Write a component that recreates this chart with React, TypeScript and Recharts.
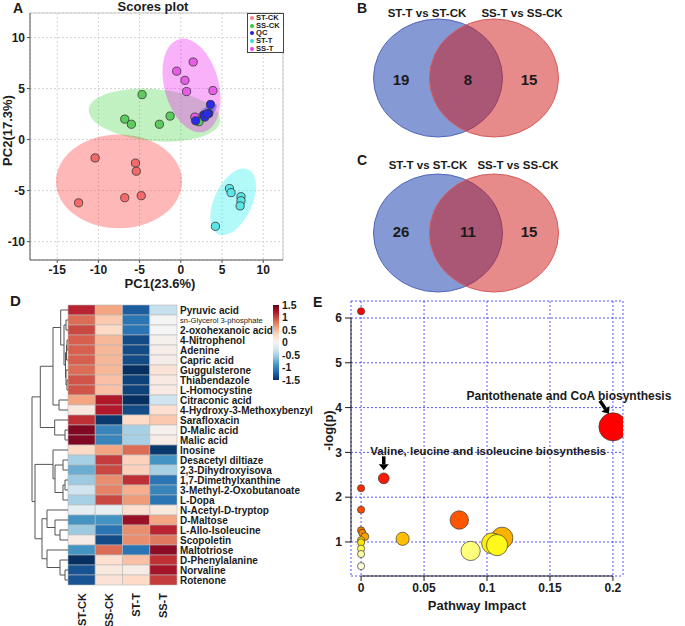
import React from 'react';
import {
  ScatterChart, Scatter, BarChart, Bar, Cell, XAxis, YAxis, ZAxis, CartesianGrid,
  ReferenceArea, ReferenceLine, ReferenceDot, Legend, Label,
} from 'recharts';

const FONT = '"Liberation Sans", Arial, Helvetica, sans-serif';
const INK = '#1b1b1b';

// ---------- A: PCA scores ----------
const groupNames = ['ST-CK', 'SS-CK', 'QC', 'ST-T', 'SS-T'];
const stCkPC1 = [-10.4, -5.5, -5.4, -12.4, -6.8, -4.8];
const stCkPC2 = [-1.8, -2.3, -3.1, -6.2, -5.7, -5.5];
const ssCkPC1 = [-4.7, -6.8, -6.0, -1.3, -2.6, 2.2];
const ssCkPC2 = [4.4, 2.0, 1.5, 2.3, 1.5, 1.75];
const qcPC1 = [1.8, 2.8, 2.9, 3.4, 3.6, 3.2];
const qcPC2 = [1.84, 2.4, 2.2, 2.56, 3.44, 2.5];
const stTPC1 = [5.9, 6.1, 7.3, 7.3, 7.2, 4.2];
const stTPC2 = [-4.8, -5.2, -5.6, -6.0, -6.5, -8.5];
const ssTPC1 = [1.5, -0.5, 0.5, 0.7, 3.9, 1.7];
const ssTPC2 = [7.6, 6.7, 5.8, 4.7, 4.8, 2.2];

// 95% ellipses: centre, half-axes (in PC units) and tilt
const ellipsePC1 = [-7.5, -3.2, 3.0, 6.35, 1.3];
const ellipsePC2 = [-4.1, 2.4, 2.55, -6.1, 5.3];
const ellipseHalfPC1 = [7.65, 8.0, 1.7, 2.3, 3.3];
const ellipseHalfPC2 = [4.6, 2.55, 0.5, 3.5, 4.7];
const ellipseTilt = [0, 5, -40, 25, -15];

const dotFill = ['#f46a6a', '#5dcc5d', '#2b2be8', '#58e6e6', '#e85de8'];
const hullFill = ['#ff3333', '#33cc33', '#3a3aff', '#22eeee', '#ee22ee'];
const hullOpacity = [0.35, 0.3, 0.45, 0.35, 0.35];
const legendDot = ['#ff8080', '#33cc33', '#2020dd', '#33e0e0', '#ee44ee'];
const hullOrder = [0, 1, 4, 2, 3];
const pointOrder = [0, 1, 4, 2, 3];

const groupPC1 = [stCkPC1, ssCkPC1, qcPC1, stTPC1, ssTPC1];
const groupPC2 = [stCkPC2, ssCkPC2, qcPC2, stTPC2, ssTPC2];
const scoreSeries = groupNames.map((name, g) => ({
  name,
  points: groupPC1[g].map((x, k) => ({ x, y: groupPC2[g][k] })),
}));

// ---------- B / C: Venn ----------
const vennSets = ['ST-T vs ST-CK', 'SS-T vs SS-CK'];
const vennCountsB = [19, 8, 15];
const vennCountsC = [26, 11, 15];

// ---------- D: heatmap ----------
const metabolites = [
  'Pyruvic acid', 'sn-Glycerol 3-phosphate', '2-oxohexanoic acid', '4-Nitrophenol', 'Adenine',
  'Capric acid', 'Guggulsterone', 'Thiabendazole', 'L-Homocystine', 'Citraconic acid',
  '4-Hydroxy-3-Methoxybenzyl', 'Sarafloxacin', 'D-Malic acid', 'Malic acid', 'Inosine',
  'Desacetyl diltiaze', '2,3-Dihydroxyisova', '1,7-Dimethylxanthine', '3-Methyl-2-Oxobutanoate',
  'L-Dopa', 'N-Acetyl-D-tryptop', 'D-Maltose', 'L-Allo-Isoleucine', 'Scopoletin', 'Maltotriose',
  'D-Phenylalanine', 'Norvaline', 'Rotenone',
];
const sampleGroups = ['ST-CK', 'SS-CK', 'ST-T', 'SS-T'];
const zStCk = [1.15, 0.85, 1.0, 0.9, 0.9, 0.9, 0.85, 0.95, 0.95, 0.6, 0.15, 1.1, 1.4, 1.4, 0.3, -0.5, -0.75, -0.55, -0.3, -0.5, -0.15, -0.9, -0.55, 0.1, -0.9, -1.55, -1.3, -1.3];
const zSsCk = [0.6, 0.4, 0.3, 0.5, 0.5, 0.5, 0.5, 0.45, 0.45, 1.2, 1.2, -1.45, -1.0, -1.0, 0.6, 1.05, 1.0, 0.7, 0.75, 1.0, -0.12, -0.9, -1.1, -1.35, 0.85, 0.25, 0.15, 0.2];
const zStT = [-1.25, -1.1, -1.1, -1.35, -1.35, -1.35, -1.5, -1.4, -1.4, -1.5, -1.35, 0.3, -0.5, -0.5, 0.85, 0.35, 0.35, 1.1, 0.55, 0.65, 0.25, 1.3, 0.7, 0.7, -1.1, 0.45, 0.1, 0.3];
const zSsT = [-0.35, 0, 0, 0.05, 0.08, 0.08, 0.2, 0.12, 0.12, -0.3, 0.25, 0.4, 0.05, 0.1, -1.45, -0.9, -0.5, -1.1, -1.0, -1.1, 0.15, 0.6, 1.15, 0.8, 1.35, 1.1, 1.25, 1.05];
const colorbarTicks = [-1.5, -1, -0.5, 0, 0.5, 1, 1.5];

// hierarchical clustering of rows: [child, child, height]; ids >= 28 refer to earlier merges
const dendroMerges: [number, number, number][] = [
  [1, 2, 2], [3, 4, 1], [5, 29, 1.5], [7, 8, 1], [6, 31, 2], [30, 32, 2.5], [28, 33, 4],
  [0, 34, 7.3], [9, 10, 9], [35, 36, 15], [12, 13, 3], [11, 38, 13.3], [37, 39, 27.7],
  [15, 16, 5], [17, 18, 3], [42, 19, 5], [41, 43, 13], [14, 44, 15], [22, 23, 8],
  [21, 46, 13], [20, 47, 21], [26, 27, 3], [25, 49, 8], [24, 50, 21], [48, 51, 26],
  [45, 52, 33], [40, 53, 36],
];

// ---------- E: pathway analysis ----------
const pathwayImpact = [0, 0.2, 0.018, 0, 0, 0.078, 0, 0.001, 0.003, 0.112, 0.033, 0, 0.087, 0.104, 0, 0.108, 0, 0, 0];
const pathwayLogP = [6.15, 3.57, 2.42, 2.2, 1.72, 1.49, 1.26, 1.2, 1.12, 1.09, 1.07, 1.04, 0.8, 0.97, 0.99, 0.93, 0.85, 0.73, 0.46];
const calloutIndex = [1, 2];
const calloutNames = ['Pantothenate and CoA biosynthesis', 'Valine, leucine and isoleucine biosynthesis'];

// ---------- helpers ----------
const hexToRgb = (h: string) => [1, 3, 5].map((i) => parseInt(h.slice(i, i + 2), 16));
const mix = (a: string, b: string, t: number) => {
  const A = hexToRgb(a);
  const B = hexToRgb(b);
  return `rgb(${A.map((v, i) => Math.round(v + (B[i] - v) * t)).join(',')})`;
};
const rampColor = (stops: number[], colors: string[], v: number) => {
  if (v <= stops[0]) return colors[0];
  for (let i = 1; i < stops.length; i++) {
    if (v <= stops[i]) return mix(colors[i - 1], colors[i], (v - stops[i - 1]) / (stops[i] - stops[i - 1]));
  }
  return colors[colors.length - 1];
};
const rdbu = ['#053061', '#2166ac', '#4393c3', '#92c5de', '#d1e5f0', '#f4f4f4', '#fddbc7', '#f4a582', '#d6604d', '#b2182b', '#67001f'];
const rdbuStops = rdbu.map((_, i) => -1.5 + (3 * i) / 10);
const zColor = (v: number) => rampColor(rdbuStops, rdbu, v);
const heatStops = [0.4, 0.75, 0.9, 0.97, 1.05, 1.1, 1.25, 1.5, 2.0, 2.4, 3.5];
const heatHex = ['#ffffe6', '#ffffa0', '#ffff30', '#ffee00', '#ffcc00', '#ffaa00', '#f07800', '#ff5500', '#ff3800', '#ff1800', '#ff0000'];
const pColor = (v: number) => rampColor(heatStops, heatHex, v);

const tickFont = (size: number) => ({ fontSize: size, fontWeight: 700, fill: INK, fontFamily: FONT });

const hTitle = (text: string, dx: number, baseline: number, size: number) => (p: any) => {
  const vb = p.viewBox || { x: 0, y: 0, width: 0, height: 0 };
  return (
    <text x={vb.x + vb.width / 2 + dx} y={vb.y + baseline} textAnchor="middle" fontSize={size} fontWeight={700} fill={INK} fontFamily={FONT}>
      {text}
    </text>
  );
};
const vTitle = (text: string, cxOff: number, cyOff: number, size: number) => (p: any) => {
  const vb = p.viewBox || { x: 0, y: 0, width: 0, height: 0 };
  const cx = vb.x + cxOff;
  const cy = vb.y + vb.height / 2 + cyOff;
  return (
    <text x={cx} y={cy} transform={`rotate(-90 ${cx} ${cy})`} textAnchor="middle" dominantBaseline="central" fontSize={size} fontWeight={700} fill={INK} fontFamily={FONT}>
      {text}
    </text>
  );
};

const Txt = ({ x, y, size, children, center = false, weight = 700 }: any) => (
  <div style={{ position: 'absolute', left: x, top: y, fontSize: size, fontWeight: weight, lineHeight: 1, whiteSpace: 'nowrap', transform: center ? 'translateX(-50%)' : undefined }}>
    {children}
  </div>
);

// ---------- panel A ----------
const ellipseShape = (g: number) => (p: any) => {
  const cx = p.x + p.width / 2;
  const cy = p.y + p.height / 2;
  return (
    <ellipse cx={cx} cy={cy} rx={Math.abs(p.width) / 2} ry={Math.abs(p.height) / 2} fill={hullFill[g]} fillOpacity={hullOpacity[g]} stroke="none" transform={`rotate(${ellipseTilt[g]} ${cx} ${cy})`} />
  );
};
const scoreDot = (g: number) => (p: any) => (
  <circle cx={p.cx} cy={p.cy} r={4.1} fill={dotFill[g]} stroke="#333" strokeWidth={0.8} />
);
const ScoresLegend = () => (
  <div style={{ border: '1px solid #444', background: '#fff', padding: '0px 2px', fontSize: 7.6, fontWeight: 700, lineHeight: '7.7px', fontFamily: FONT, color: INK }}>
    {groupNames.map((g, i) => (
      <div key={g} style={{ display: 'flex', alignItems: 'center', whiteSpace: 'nowrap', height: 7.7 }}>
        <span style={{ display: 'inline-block', width: 4, height: 4, borderRadius: 2, background: legendDot[i], marginRight: 2 }} />
        {g}
      </div>
    ))}
  </div>
);

const ScoresPlot = () => (
  <ScatterChart width={300} height={295} margin={{ top: 13, right: 17, bottom: 0, left: 0 }}>
    <CartesianGrid stroke="#d4d4d4" strokeDasharray="2 2" />
    <XAxis type="number" dataKey="x" domain={[-18.3, 12.4]} ticks={[-15, -10, -5, 0, 5, 10]} allowDataOverflow height={35} tickSize={3} tickMargin={2} tick={tickFont(12)} stroke="#555">
      <Label content={hTitle('PC1(23.6%)', 3.5, 27.5, 13)} />
    </XAxis>
    <YAxis type="number" dataKey="y" domain={[-11.8, 12.4]} ticks={[-10, -5, 0, 5, 10]} allowDataOverflow width={30} tickSize={3} tickMargin={2} tick={tickFont(12)} stroke="#555">
      <Label content={vTitle('PC2(17.3%)', 7.5, -6, 13)} />
    </YAxis>
    <ReferenceLine x={12.4} stroke="#c8c8c8" />
    <ReferenceLine y={12.4} stroke="#c8c8c8" />
    {hullOrder.map((g) => (
      <ReferenceArea
        key={`hull-${g}`}
        x1={ellipsePC1[g] - ellipseHalfPC1[g]}
        x2={ellipsePC1[g] + ellipseHalfPC1[g]}
        y1={ellipsePC2[g] - ellipseHalfPC2[g]}
        y2={ellipsePC2[g] + ellipseHalfPC2[g]}
        ifOverflow="visible"
        shape={ellipseShape(g)}
      />
    ))}
    {pointOrder.map((g) => (
      <Scatter key={scoreSeries[g].name} name={scoreSeries[g].name} data={scoreSeries[g].points} shape={scoreDot(g)} isAnimationActive={false} />
    ))}
    <Legend layout="vertical" align="center" verticalAlign="middle" content={() => <ScoresLegend />} wrapperStyle={{ position: 'absolute', left: 247, top: 13, width: 37, height: 40 }} />
  </ScatterChart>
);

// ---------- panels B, C ----------
const vennFill = ['#0b33ab', '#cf1515'];
const vennStroke = ['#5466bb', '#d65c5c'];
const vennCircleX = [98, 154];
const vennCountX = [61, 128, 189];

const vennCircle = (p: any) => (
  <ellipse cx={p.cx} cy={p.cy} rx={64.5} ry={59} fill={vennFill[p.payload.set]} fillOpacity={0.5} stroke={vennStroke[p.payload.set]} strokeWidth={1} />
);
const vennCount = (p: any) => (
  <text x={p.cx} y={p.cy} textAnchor="middle" dominantBaseline="central" fontSize={15} fontWeight={700} fill={INK} fontFamily={FONT}>
    {p.payload.n}
  </text>
);

const Venn = ({ counts, circleY, countY }: { counts: number[]; circleY: number; countY: number }) => {
  const circles = vennSets.map((_, i) => ({ x: vennCircleX[i], y: circleY, set: i }));
  const regions = counts.map((n, i) => ({ x: vennCountX[i], y: countY, n }));
  return (
    <ScatterChart width={345} height={150} margin={{ top: 0, right: 0, bottom: 0, left: 0 }}>
      <XAxis type="number" dataKey="x" domain={[0, 345]} hide />
      <YAxis type="number" dataKey="y" domain={[0, 150]} reversed hide />
      <Scatter data={circles} shape={vennCircle} isAnimationActive={false} />
      <Scatter data={regions} shape={vennCount} isAnimationActive={false} />
    </ScatterChart>
  );
};

// ---------- panel D ----------
const zColumns = [zStCk, zSsCk, zStT, zSsT];
const heatRows = metabolites.map((name) => ({ name, w0: 1, w1: 1, w2: 1, w3: 1 }));

const RowTick = (p: any) => {
  const name = p.payload.value as string;
  const small = name.startsWith('sn-');
  return (
    <text x={p.x} y={p.y} dy="0.36em" textAnchor="start" fontSize={small ? 7.6 : 10} fontWeight={small ? 400 : 700} fill={INK} fontFamily={FONT}>
      {name}
    </text>
  );
};
const ColTick = (p: any) => {
  const label = sampleGroups[Math.floor(p.payload.value)];
  return (
    <text x={p.x} y={p.y} transform={`rotate(-90 ${p.x} ${p.y})`} textAnchor="end" dominantBaseline="central" fontSize={11} fontWeight={700} fill={INK} fontFamily={FONT}>
      {label}
    </text>
  );
};

const Heatmap = () => (
  <BarChart width={330} height={336} layout="vertical" data={heatRows} margin={{ top: 15, right: 0, bottom: 0, left: 68 }} barCategoryGap={0} barGap={0}>
    <XAxis type="number" domain={[0, 4]} ticks={[0.5, 1.5, 2.5, 3.5]} height={41} axisLine={false} tickLine={false} tickSize={6} tickMargin={2} interval={0} tick={<ColTick />} />
    <YAxis type="category" dataKey="name" orientation="right" width={153} axisLine={false} tickLine={false} tickSize={0} tickMargin={3} interval={0} tick={<RowTick />} />
    {zColumns.map((col, c) => (
      <Bar key={sampleGroups[c]} dataKey={`w${c}`} stackId="h" stroke="#b9b9b9" strokeWidth={0.6} isAnimationActive={false}>
        {col.map((v, r) => (
          <Cell key={r} fill={zColor(v)} />
        ))}
      </Bar>
    ))}
  </BarChart>
);

const Colorbar = () => (
  <BarChart width={60} height={95} data={[{ k: 'z', span: [-1.5, 1.5] }]} margin={{ top: 10, right: 0, bottom: 10, left: 13 }} barCategoryGap={0}>
    <defs>
      <linearGradient id="zGrad" x1="0" y1="0" x2="0" y2="1">
        {rdbu.map((_, i) => (
          <stop key={i} offset={`${i * 10}%`} stopColor={rdbu[rdbu.length - 1 - i]} />
        ))}
      </linearGradient>
    </defs>
    <XAxis dataKey="k" hide />
    <YAxis type="number" orientation="right" domain={[-1.5, 1.5]} ticks={colorbarTicks} interval={0} width={41} axisLine={false} tickLine={false} tickSize={0} tickMargin={3} tick={tickFont(10.5)} />
    <Bar dataKey="span" fill="url(#zGrad)" isAnimationActive={false} />
  </BarChart>
);

const buildDendro = () => {
  const pos = metabolites.map((_, i) => ({ h: 0, y: i + 0.5 }));
  const segs: { x: number; y: number }[][] = [];
  dendroMerges.forEach(([a, b, h]) => {
    const A = pos[a];
    const B = pos[b];
    segs.push([{ x: A.h, y: A.y }, { x: h, y: A.y }]);
    segs.push([{ x: B.h, y: B.y }, { x: h, y: B.y }]);
    segs.push([{ x: h, y: A.y }, { x: h, y: B.y }]);
    pos.push({ h, y: (A.y + B.y) / 2 });
  });
  return segs;
};
const dendroSegments = buildDendro();
const dendroLeaves = metabolites.map((_, i) => ({ x: 0, y: i + 0.5 }));

const Dendrogram = () => (
  <ScatterChart width={48} height={336} margin={{ top: 15, right: 0, bottom: 41, left: 0 }}>
    <XAxis type="number" dataKey="x" domain={[0, 48]} reversed hide />
    <YAxis type="number" dataKey="y" domain={[0, 28]} reversed hide />
    <Scatter data={dendroLeaves} shape={() => <g />} isAnimationActive={false} />
    {dendroSegments.map((s, i) => (
      <ReferenceLine key={i} segment={s} stroke="#555" strokeWidth={1} ifOverflow="visible" />
    ))}
  </ScatterChart>
);

// ---------- panel E ----------
const pathways = pathwayImpact.map((impact, i) => ({ impact, logp: pathwayLogP[i] }));
const calloutLayout = [
  { tx: -44, ty: -27, ax1: -13, ay1: -26, ax2: -4, ay2: -13, size: 12 },
  { tx: 104.5, ty: -23, ax1: 0, ay1: -22, ax2: 0, ay2: -8, size: 11.5 },
];

const Callout = ({ cx, cy, text, l }: any) => {
  const x1 = cx + l.ax1;
  const y1 = cy + l.ay1;
  const x2 = cx + l.ax2;
  const y2 = cy + l.ay2;
  const len = Math.hypot(x2 - x1, y2 - y1);
  const ux = (x2 - x1) / len;
  const uy = (y2 - y1) / len;
  const bx = x2 - ux * 6;
  const by = y2 - uy * 6;
  return (
    <g>
      <line x1={x1} y1={y1} x2={bx} y2={by} stroke="#000" strokeWidth={3.5} />
      <polygon points={`${x2},${y2} ${bx - uy * 5},${by + ux * 5} ${bx + uy * 5},${by - ux * 5}`} fill="#000" />
      <text x={cx + l.tx} y={cy + l.ty} textAnchor="middle" fontSize={l.size} fontWeight={700} fill={INK} fontFamily={FONT}>
        {text}
      </text>
    </g>
  );
};

const PathwayPlot = () => (
  <ScatterChart width={395} height={336} margin={{ top: 11, right: 62, bottom: 0, left: 0 }}>
    <CartesianGrid stroke="#2a2aff" strokeDasharray="2 2" strokeWidth={0.8} />
    <XAxis type="number" dataKey="impact" domain={[-0.008, 0.208]} ticks={[0, 0.05, 0.1, 0.15, 0.2]} allowDataOverflow height={50} axisLine={false} tickSize={5} tickMargin={2} tickLine={{ stroke: INK }} tick={tickFont(12)}>
      <Label content={hTitle('Pathway Impact', -10, 33.5, 13)} />
    </XAxis>
    <YAxis type="number" dataKey="logp" domain={[0.24, 6.38]} ticks={[1, 2, 3, 4, 5, 6]} allowDataOverflow width={61} axisLine={false} tickSize={6} tickMargin={3} tickLine={{ stroke: INK }} tick={tickFont(12)}>
      <Label content={vTitle('-log(p)', 38, -8, 13)} />
    </YAxis>
    <ZAxis type="number" dataKey="impact" domain={[0, 0.2]} range={[40, 620]} />
    <ReferenceLine segment={[{ x: -0.008, y: 1 }, { x: -0.008, y: 6 }]} stroke={INK} ifOverflow="visible" />
    <ReferenceLine segment={[{ x: 0, y: 0.24 }, { x: 0.2, y: 0.24 }]} stroke={INK} ifOverflow="visible" />
    <Scatter data={pathways} stroke="#3a3a3a" strokeWidth={0.7} isAnimationActive={false}>
      {pathways.map((p, i) => (
        <Cell key={i} fill={pColor(p.logp)} />
      ))}
    </Scatter>
    {calloutIndex.map((idx, k) => (
      <ReferenceDot
        key={calloutNames[k]}
        x={pathwayImpact[idx]}
        y={pathwayLogP[idx]}
        r={0}
        ifOverflow="visible"
        shape={(p: any) => <Callout cx={p.cx} cy={p.cy} text={calloutNames[k]} l={calloutLayout[k]} />}
      />
    ))}
  </ScatterChart>
);

const Abs = ({ x, y, children }: any) => <div style={{ position: 'absolute', left: x, top: y }}>{children}</div>;

export default function App() {
  return (
    <div style={{ position: 'absolute', left: 0, top: 0, width: 685, height: 626, background: '#fff', fontFamily: FONT, color: INK, overflow: 'hidden' }}>
      <Abs x={0} y={0}><ScoresPlot /></Abs>
      <Txt x={153} y={0} size={13} center>Scores plot</Txt>
      <Txt x={13} y={1} size={14}>A</Txt>

      <Abs x={340} y={0}><Venn counts={vennCountsB} circleY={78} countY={79} /></Abs>
      <Abs x={340} y={150}><Venn counts={vennCountsC} circleY={83} countY={81} /></Abs>
      <Txt x={357} y={1} size={14}>B</Txt>
      <Txt x={357} y={153} size={14}>C</Txt>
      <Txt x={427} y={7.5} size={11.5} center>{vennSets[0]}</Txt>
      <Txt x={522} y={7.5} size={11.5} center>{vennSets[1]}</Txt>
      <Txt x={428} y={160} size={11.5} center>{vennSets[0]}</Txt>
      <Txt x={518} y={160} size={11.5} center>{vennSets[1]}</Txt>

      <Abs x={0} y={290}><Heatmap /></Abs>
      <Abs x={20} y={290}><Dendrogram /></Abs>
      <Abs x={260} y={295}><Colorbar /></Abs>
      <Txt x={10} y={293} size={15}>D</Txt>

      <Abs x={290} y={290}><PathwayPlot /></Abs>
      <Txt x={313} y={295} size={14}>E</Txt>
    </div>
  );
}
